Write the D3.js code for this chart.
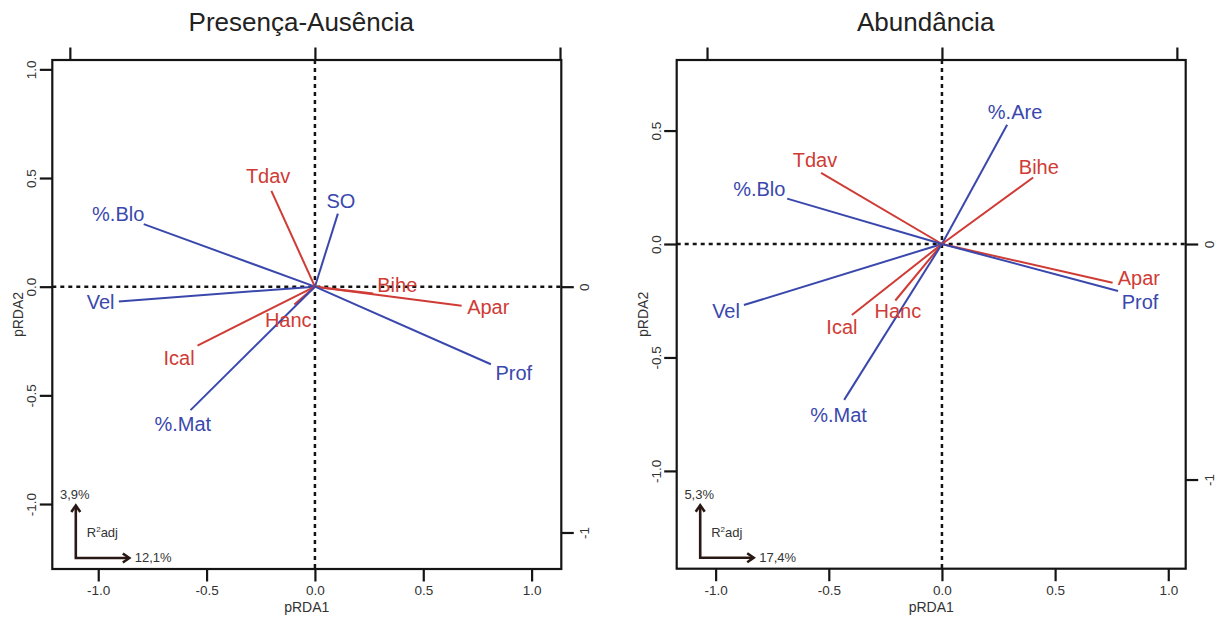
<!DOCTYPE html>
<html>
<head>
<meta charset="utf-8">
<script src="https://cdn.jsdelivr.net/npm/d3@7"></script>
<style>
body { margin: 0; background: #fff; }
text { font-family: "Liberation Sans", Arial, sans-serif; }
</style>
</head>
<body>
<div id="chart"></div>
<script>
// Presença-Ausência: biplot scores (pRDA1, pRDA2) and label positions
const paVars = ["%.Blo", "Vel", "Tdav", "SO", "Bihe", "Apar", "Prof", "Hanc", "Ical", "%.Mat"];
const paAx1  = [-0.790, -0.905, -0.201, 0.106, 0.269, 0.677, 0.812, -0.095, -0.542, -0.574];
const paAx2  = [0.288, -0.068, 0.441, 0.336, -0.031, -0.088, -0.357, -0.082, -0.271, -0.568];
const paLab1 = [-0.908, -0.989, -0.216, 0.120, 0.380, 0.800, 0.918, -0.123, -0.627, -0.610];
const paLab2 = [0.337, -0.071, 0.508, 0.395, 0.008, -0.094, -0.397, -0.151, -0.325, -0.631];

// Abundância
const abVars = ["%.Are", "Bihe", "Tdav", "%.Blo", "Vel", "Apar", "Prof", "Hanc", "Ical", "%.Mat"];
const abAx1  = [0.288, 0.403, -0.534, -0.684, -0.875, 0.754, 0.778, -0.206, -0.398, -0.432];
const abAx2  = [0.526, 0.293, 0.314, 0.200, -0.269, -0.171, -0.207, -0.249, -0.313, -0.687];
const abLab1 = [0.323, 0.428, -0.561, -0.807, -0.954, 0.870, 0.875, -0.195, -0.442, -0.457];
const abLab2 = [0.583, 0.342, 0.371, 0.244, -0.296, -0.151, -0.256, -0.293, -0.363, -0.752];

// red = landscape variables, blue = local habitat
const redVars = ["Tdav", "Bihe", "Apar", "Hanc", "Ical"];

const xTicks = [-1, -0.5, 0, 0.5, 1];
const paYTicks = [-1, -0.5, 0, 0.5, 1];
const abYTicks = [-1, -0.5, 0, 0.5];
const secTicks = [-1, 0, 1];

const paR2 = ["3,9%", "12,1%"];
const abR2 = ["5,3%", "17,4%"];

const RED = "#cf3b35", BLUE = "#3a48ad", INK = "#141414";

const svg = d3.select("#chart").append("svg")
  .attr("width", 1217)
  .attr("height", 617)
  .style("background", "#fff");

function drawPanel(p) {
  const g = svg.append("g");
  const x = d3.scaleLinear().domain(p.xlim).range([p.l, p.r]);
  const y = d3.scaleLinear().domain(p.ylim).range([p.b, p.t]);
  // secondary (species) scale on top / right
  const x2 = d3.scaleLinear().domain(p.xlim.map(v => v / p.k)).range([p.l, p.r]);
  const y2 = d3.scaleLinear().domain(p.ylim.map(v => v / p.k)).range([p.b, p.t]);

  // dashed zero lines
  g.append("line")
    .attr("x1", x(0)).attr("x2", x(0)).attr("y1", p.t).attr("y2", p.b)
    .attr("stroke", INK).attr("stroke-width", 2.5).attr("stroke-dasharray", "4,4");
  g.append("line")
    .attr("x1", p.l).attr("x2", p.r).attr("y1", y(0)).attr("y2", y(0))
    .attr("stroke", INK).attr("stroke-width", 2.5).attr("stroke-dasharray", "4,4");

  // axes
  const bottom = g.append("g").attr("transform", `translate(0,${p.b})`)
    .call(d3.axisBottom(x).tickValues(xTicks).tickFormat(d => d.toFixed(1)).tickSize(12.5).tickPadding(4));
  bottom.selectAll("text").attr("font-size", 13.5).attr("fill", "#333");

  const left = g.append("g").attr("transform", `translate(${p.l},0)`)
    .call(d3.axisLeft(y).tickValues(p.yTicks).tickFormat(d => d.toFixed(1)).tickSize(12.5));
  left.selectAll("text")
    .attr("x", null).attr("dy", null)
    .attr("transform", "translate(-16,0) rotate(-90)")
    .attr("text-anchor", "middle")
    .attr("font-size", 13.5).attr("fill", "#333");

  g.append("g").attr("transform", `translate(0,${p.t})`)
    .call(d3.axisTop(x2).tickValues(secTicks.filter(v => v >= x2.domain()[0] && v <= x2.domain()[1] + 0.01))
      .tickFormat("").tickSize(12.5));

  const right = g.append("g").attr("transform", `translate(${p.r},0)`)
    .call(d3.axisRight(y2).tickValues(secTicks.filter(v => v >= y2.domain()[0] && v <= y2.domain()[1]))
      .tickFormat(d => String(d)).tickSize(12.5));
  right.selectAll("text")
    .attr("x", null).attr("dy", null)
    .attr("transform", "translate(28,0) rotate(-90)")
    .attr("text-anchor", "middle")
    .attr("font-size", 13.5).attr("fill", "#333");

  g.selectAll(".domain").remove();
  g.selectAll(".tick line").attr("stroke", INK).attr("stroke-width", 2.2);

  // box
  g.append("rect")
    .attr("x", p.l).attr("y", p.t).attr("width", p.r - p.l).attr("height", p.b - p.t)
    .attr("fill", "none").attr("stroke", INK).attr("stroke-width", 2.2);

  // vectors
  const rows = p.vars.map((v, i) => ({ name: v, a1: p.ax1[i], a2: p.ax2[i], l1: p.lab1[i], l2: p.lab2[i] }));
  const col = d => redVars.includes(d.name) ? RED : BLUE;

  g.selectAll(".vec")
    .data(rows)
    .enter()
    .append("line")
    .attr("x1", x(0)).attr("y1", y(0))
    .attr("x2", d => x(d.a1)).attr("y2", d => y(d.a2))
    .attr("stroke", col).attr("stroke-width", 2);

  g.selectAll(".lab")
    .data(rows)
    .enter()
    .append("text")
    .attr("x", d => x(d.l1)).attr("y", d => y(d.l2))
    .attr("dy", "0.36em")
    .attr("text-anchor", "middle")
    .attr("font-size", 20)
    .attr("fill", col)
    .text(d => d.name);

  // R2adj corner arrows
  const cx = p.l + 23.5, cy = p.b - 11;
  const arrowCol = "#2a1814";
  g.append("path")
    .attr("d", `M${cx},${cy - 52}L${cx},${cy}L${cx + 53},${cy}`)
    .attr("fill", "none").attr("stroke", arrowCol).attr("stroke-width", 2.6);
  g.append("path")
    .attr("d", `M${cx - 4.5},${cy - 46}L${cx},${cy - 52.5}L${cx + 4.5},${cy - 46}`)
    .attr("fill", "none").attr("stroke", arrowCol).attr("stroke-width", 2.6);
  g.append("path")
    .attr("d", `M${cx + 47},${cy - 4.5}L${cx + 53.5},${cy}L${cx + 47},${cy + 4.5}`)
    .attr("fill", "none").attr("stroke", arrowCol).attr("stroke-width", 2.6);

  g.append("text").attr("x", p.l + 7.7).attr("y", p.b - 70)
    .attr("font-size", 13).attr("fill", "#333").text(p.r2[0]);
  g.append("text").attr("x", p.l + 82.5).attr("y", p.b - 7)
    .attr("font-size", 13).attr("fill", "#333").text(p.r2[1]);
  const rt = g.append("text").attr("x", p.l + 34.5).attr("y", p.b - 32)
    .attr("font-size", 13).attr("fill", "#333");
  rt.append("tspan").text("R");
  rt.append("tspan").attr("font-size", 8).attr("dy", -5).text("2");
  rt.append("tspan").attr("dy", 5).text("adj");

  // titles
  g.append("text")
    .attr("x", (p.l + p.r) / 2 - 5.5).attr("y", 31)
    .attr("text-anchor", "middle")
    .attr("font-size", 26).attr("fill", "#222")
    .text(p.title);
  g.append("text")
    .attr("x", (p.l + p.r) / 2).attr("y", 612)
    .attr("text-anchor", "middle")
    .attr("font-size", 14).attr("fill", "#333")
    .text("pRDA1");
  g.append("text")
    .attr("transform", `translate(${p.l - 29},${(p.t + p.b) / 2}) rotate(-90)`)
    .attr("text-anchor", "middle")
    .attr("font-size", 14).attr("fill", "#333")
    .text("pRDA2");
}

drawPanel({
  title: "Presença-Ausência",
  l: 52.3, r: 561.3, t: 60, b: 569,
  xlim: [-1.212, 1.137], ylim: [-1.299, 1.043], k: 1.131,
  yTicks: paYTicks,
  vars: paVars, ax1: paAx1, ax2: paAx2, lab1: paLab1, lab2: paLab2,
  r2: paR2
});

drawPanel({
  title: "Abundância",
  l: 676.7, r: 1185.7, t: 60, b: 568.7,
  xlim: [-1.172, 1.077], ylim: [-1.431, 0.811], k: 1.038,
  yTicks: abYTicks,
  vars: abVars, ax1: abAx1, ax2: abAx2, lab1: abLab1, lab2: abLab2,
  r2: abR2
});
</script>
</body>
</html>
